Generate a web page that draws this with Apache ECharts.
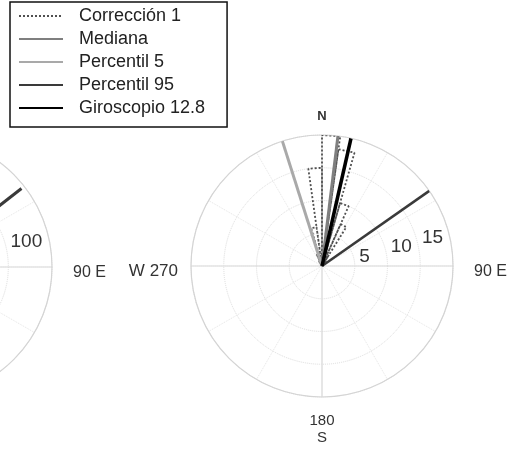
<!DOCTYPE html>
<html>
<head>
<meta charset="utf-8">
<script src="https://cdn.jsdelivr.net/npm/echarts@6/dist/echarts.min.js"></script>
<style>
  html, body { margin: 0; padding: 0; background: #fff; }
  #chart { width: 515px; height: 449px; }
</style>
</head>
<body>
<div id="chart"></div>
<script>
    // rose (Corrección 1): 8 degree bins, start angle of each bin and its count
    const roseBinStarts = [-32, -24, -16, -8, 0, 8, 16, 24, 32, 40];
    const roseCounts = [1, 2, 6, 15, 20, 18, 10, 7, 2, 1];
    const roseBinWidth = 8;

    // statistic directions (degrees, clockwise from N)
    const statNames = ['Mediana', 'Percentil 5', 'Percentil 95', 'Giroscopio 12.8'];
    const statAngles = [7, 342.4, 55, 12.8];
    const statLength = 20;

    // right plot radius ticks
    const radiusMax = 20;
    const radiusStep = 5;

    // left plot (cut off at the edge)
    const leftRadiusMax = 150;
    const leftRadiusStep = 50;
    const leftLineAngle = 52;
    const leftLineLength = 146;

    const cardinalLabels = { 0: '{n|N}', 90: '{e|90 E}', 180: '{s|180}\n{s|S}', 270: '{w|W 270}' };

    const FONT = 'Liberation Sans, Arial, sans-serif';

    function norm(a) {
        return ((a % 360) + 360) % 360;
    }

    // rose outline: center -> (r, a1) -> (r, a2) -> center for each bin
    const roseData = [];
    roseBinStarts.forEach(function (a, i) {
        const a1 = norm(a), a2 = norm(a + roseBinWidth);
        roseData.push([0, a1], [roseCounts[i], a1], [roseCounts[i], a2], [0, a2]);
    });

    const statColors = ['#7f7f7f', '#a9a9a9', '#3a3a3a', '#000000'];
    const statWidths = [3, 3, 2.5, 3.5];

    function mainAngleAxis(idx) {
        return {
            polarIndex: idx, type: 'value', min: 0, max: 360, interval: 90, startAngle: 90,
            axisLine: { lineStyle: { color: '#d4d4d4', width: 1.2 } },
            axisTick: { show: false },
            splitLine: { lineStyle: { color: '#d6d6d6', width: 1.2 } },
            axisLabel: {
                margin: 12, color: '#333', fontFamily: FONT, fontSize: 16,
                formatter: function (v) { return cardinalLabels[v] || ''; },
                rich: {
                    n: { fontWeight: 'bold', fontSize: 13, color: '#333', fontFamily: FONT },
                    e: { fontSize: 16, color: '#333', fontFamily: FONT, padding: [11, 0, 0, 9] },
                    s: { fontSize: 15, color: '#333', fontFamily: FONT, padding: [7, 0, 0, 0], lineHeight: 17 },
                    w: { fontSize: 17, color: '#333', fontFamily: FONT, padding: [11, 1, 0, 0] }
                }
            }
        };
    }
    function ringRadiusAxis(idx, max, step) {
        return {
            polarIndex: idx, type: 'value', min: 0, max: max, interval: step,
            axisLine: { show: false }, axisTick: { show: false }, axisLabel: { show: false },
            splitLine: { lineStyle: { color: '#dcdcdc', type: 'dotted', width: 1 } }
        };
    }
    function spokeAngleAxis(idx) {
        return {
            polarIndex: idx, type: 'value', min: 0, max: 360, interval: 30, startAngle: 90,
            axisLine: { show: false }, axisTick: { show: false }, axisLabel: { show: false },
            splitLine: { lineStyle: { color: '#e6e6e6', type: 'dotted', width: 1 } }
        };
    }
    function blankRadiusAxis(idx, max, step) {
        return {
            polarIndex: idx, type: 'value', min: 0, max: max, interval: step,
            axisLine: { show: false }, axisTick: { show: false }, axisLabel: { show: false },
            splitLine: { show: false }
        };
    }
    function labelAngleAxis(idx) {
        return {
            polarIndex: idx, type: 'value', min: 0, max: 360, startAngle: 17, show: false
        };
    }
    function labelRadiusAxis(idx, max, step) {
        return {
            polarIndex: idx, type: 'value', min: 0, max: max, interval: step,
            axisLine: { show: false }, axisTick: { show: false }, splitLine: { show: false },
            axisLabel: {
                margin: 0, color: '#333', fontFamily: FONT, fontSize: 19,
                align: 'left', verticalAlign: 'middle', padding: [0, 0, 0, 6],
                formatter: function (v) { return (v > 0 && v < max) ? String(v) : ''; }
            }
        };
    }

    const rightC = [322, 266], leftC = [-79, 267], R = 131;

    const series = [{
        name: 'Corrección 1', type: 'line', coordinateSystem: 'polar', polarIndex: 0,
        data: roseData, symbol: 'none', silent: true, z: 3,
        itemStyle: { color: '#505050' },
        lineStyle: { color: '#505050', type: [2, 2], width: 1.8 }
    }];
    statNames.forEach(function (name, i) {
        series.push({
            name: name, type: 'line', coordinateSystem: 'polar', polarIndex: 0,
            data: [[0, statAngles[i]], [statLength, statAngles[i]]],
            symbol: 'none', silent: true, z: 4 + i,
            itemStyle: { color: statColors[i] },
            lineStyle: { color: statColors[i], width: statWidths[i], cap: 'butt' }
        });
    });
    series.push({
        name: 'left', type: 'line', coordinateSystem: 'polar', polarIndex: 3,
        data: [[0, leftLineAngle], [leftLineLength, leftLineAngle]],
        symbol: 'none', silent: true, z: 4,
        itemStyle: { color: '#3a3a3a' },
        lineStyle: { color: '#3a3a3a', width: 3 }
    });

    const chart = echarts.init(document.getElementById('chart'));
    chart.setOption({
        animation: false,
        backgroundColor: '#fff',
        textStyle: { fontFamily: FONT },
        polar: [
            { center: rightC, radius: R },
            { center: rightC, radius: R },
            { center: rightC, radius: R },
            { center: leftC, radius: R },
            { center: leftC, radius: R },
            { center: leftC, radius: R }
        ],
        angleAxis: [
            mainAngleAxis(0), spokeAngleAxis(1), labelAngleAxis(2),
            mainAngleAxis(3), spokeAngleAxis(4), labelAngleAxis(5)
        ],
        radiusAxis: [
            ringRadiusAxis(0, radiusMax, radiusStep), blankRadiusAxis(1, radiusMax, radiusStep),
            labelRadiusAxis(2, radiusMax, radiusStep),
            ringRadiusAxis(3, leftRadiusMax, leftRadiusStep), blankRadiusAxis(4, leftRadiusMax, leftRadiusStep),
            labelRadiusAxis(5, leftRadiusMax, leftRadiusStep)
        ],
        legend: {
            data: ['Corrección 1', 'Mediana', 'Percentil 5', 'Percentil 95', 'Giroscopio 12.8'],
            orient: 'vertical', left: 10, top: 2,
            padding: [4, 22, 9, 8],
            itemWidth: 44, itemHeight: 14, itemGap: 3,
            itemStyle: { opacity: 0 },
            borderColor: '#111', borderWidth: 1.5,
            backgroundColor: '#fff',
            selectedMode: false,
            textStyle: { fontSize: 18, color: '#222', fontFamily: FONT, lineHeight: 20, padding: [0, 0, 0, 11] }
        },
        series: series
    });
</script>
</body>
</html>
